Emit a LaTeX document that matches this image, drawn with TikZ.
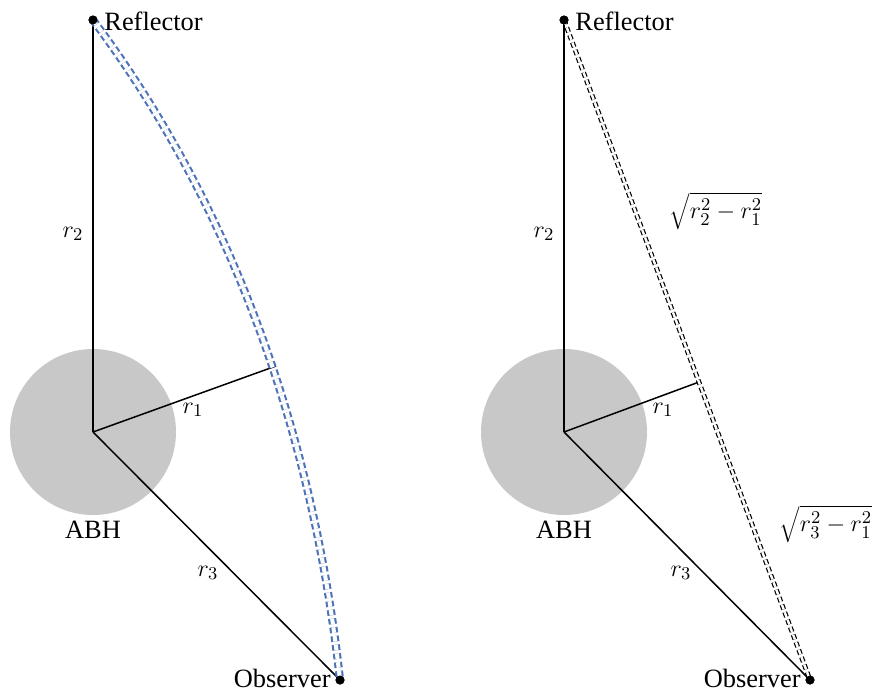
\documentclass[tikz,border=0pt]{standalone}
\usepackage{fontspec}
\setmainfont{Liberation Serif}
\definecolor{holegray}{RGB}{200,200,200}
\definecolor{rayblue}{RGB}{76,114,184}
\tikzset{
  dot/.style={circle,fill=black,inner sep=0pt,minimum size=4.5pt},
  lbl/.style={font=\fontsize{13.2}{15}\selectfont,inner sep=1pt},
  radline/.style={line width=0.75pt},
  bentray/.style={draw=rayblue,double=white,double distance=2pt,line width=1.05pt,dash pattern=on 2.8pt off 1.6pt},
  straightray/.style={draw=black,double=white,double distance=1.2pt,line width=0.6pt,dash pattern=on 2.5pt off 1.5pt}
}
\begin{document}
\begin{tikzpicture}[x=0.5pt,y=-0.5pt]
            \useasboundingbox (0,0) rectangle (873,692);

            % Left: bent path
            \coordinate (bhA) at (93,432);
            \coordinate (tanA) at (276,366);
            \fill[holegray] (bhA) circle (41.5pt);
            \node[dot] (reflA) at (93,20) {};
            \node[dot] (obsA) at (340,680) {};
            \draw[radline] (bhA) -- (reflA.center);
            \draw[radline] (bhA) -- (tanA);
            \draw[radline] (bhA) -- (obsA.center);
            \draw[bentray] (reflA.center) .. controls (236,211) and (314,442) .. (obsA.center);
            \node[dot] at (reflA) {};
            \node[dot] at (obsA) {};

            % Left: labels
            \node[lbl,anchor=west] (reflAlab) at (102,21) {Reflector};
            \node[lbl,anchor=east] (obsAlab) at (333,678) {Observer};
            \node[lbl] (rtwoA) at (73,234) {$r_2$};
            \node[lbl] (roneA) at (193,410) {$r_1$};
            \node[lbl] (rthreeA) at (208,573) {$r_3$};
            \node[lbl] (abhA) at (93,530) {ABH};

            % Right: straight path
            \coordinate (bhB) at (564,432);
            \coordinate (tanB) at (699,382);
            \fill[holegray] (bhB) circle (41.5pt);
            \node[dot] (reflB) at (564,20) {};
            \node[dot] (obsB) at (810,680) {};
            \draw[radline] (bhB) -- (reflB.center);
            \draw[radline] (bhB) -- (tanB);
            \draw[radline] (bhB) -- (obsB.center);
            \draw[straightray] (reflB.center) -- (obsB.center);
            \node[dot] at (reflB) {};
            \node[dot] at (obsB) {};

            % Right: labels
            \node[lbl,anchor=west] (reflBlab) at (573,21) {Reflector};
            \node[lbl,anchor=east] (obsBlab) at (803,678) {Observer};
            \node[lbl] (rtwoB) at (544,234) {$r_2$};
            \node[lbl] (roneB) at (663,410) {$r_1$};
            \node[lbl] (rthreeB) at (681,573) {$r_3$};
            \node[lbl] (abhB) at (564,530) {ABH};
            \node[lbl] (upperB) at (716,211) {$\sqrt{r_2^2-r_1^2}$};
            \node[lbl] (lowerB) at (826,524) {$\sqrt{r_3^2-r_1^2}$};
\end{tikzpicture}
\end{document}
